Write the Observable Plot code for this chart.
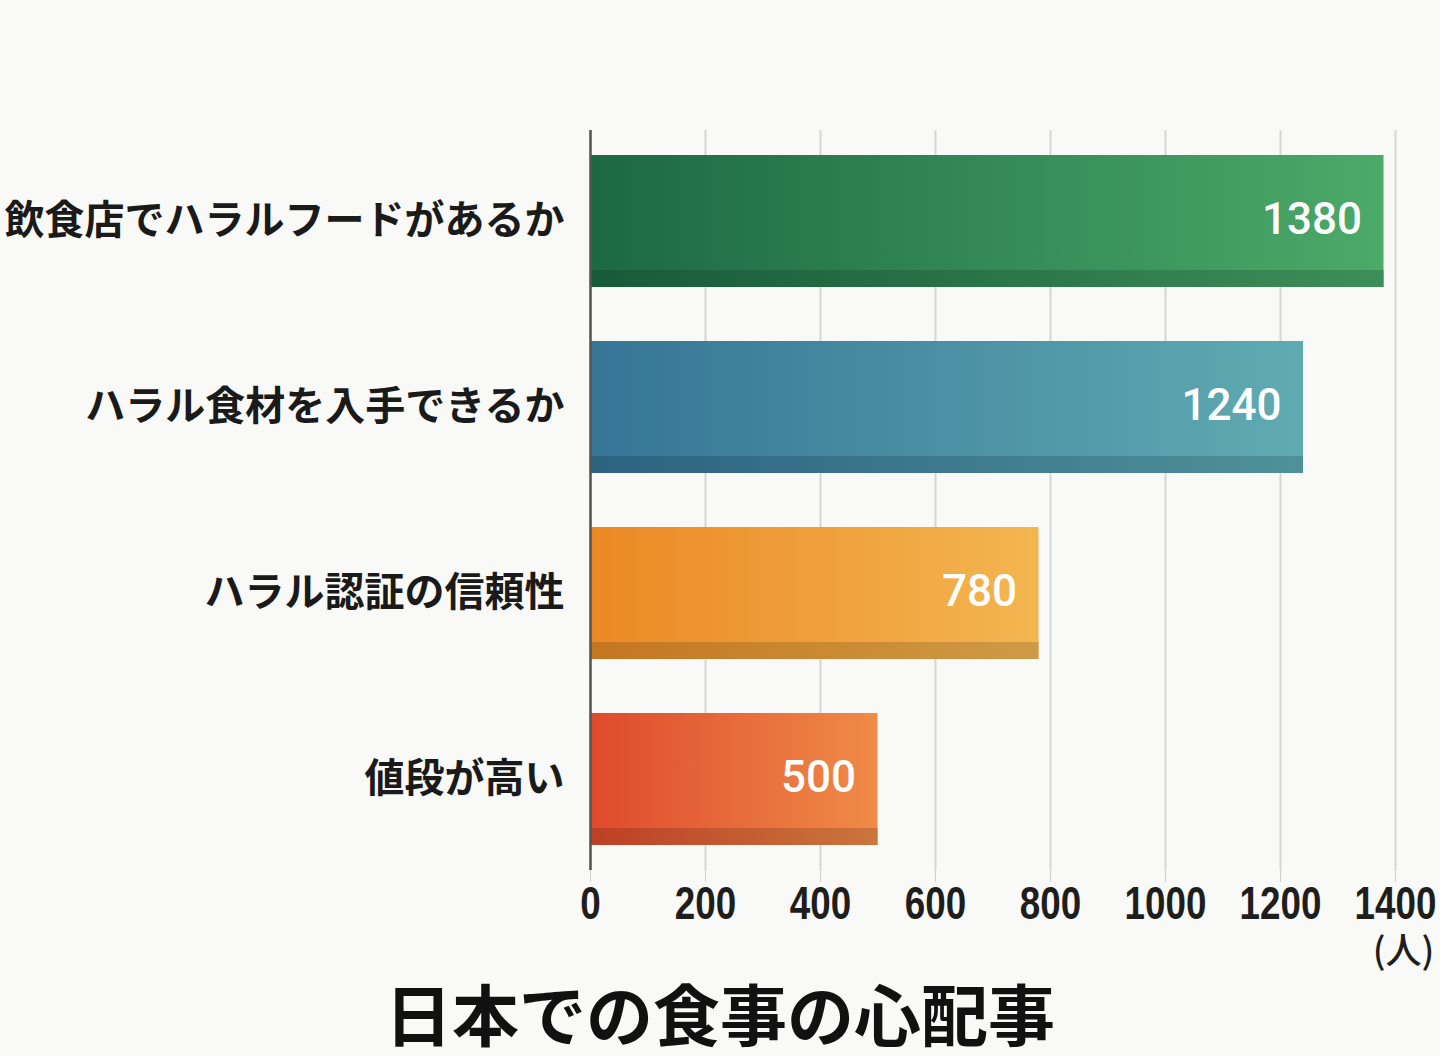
<!DOCTYPE html>
<html><head><meta charset="utf-8">
<script src="https://cdn.jsdelivr.net/npm/d3@7"></script>
<script src="https://cdn.jsdelivr.net/npm/@observablehq/plot@0.6"></script>
<style>
html,body{margin:0;padding:0;background:#f9f9f7;overflow:hidden;}
#chart{position:absolute;left:0;top:0;width:1440px;height:975px;}
#title{position:absolute;left:0;top:972px;width:1440px;height:80px;text-align:center;font-family:"Noto Sans CJK JP";font-weight:700;font-size:67px;line-height:80px;color:#111;}
#chart g[aria-label="face"], #chart g[aria-label="bevel"]{filter:drop-shadow(5px 6px 5px rgba(0,0,0,0.32));}
</style></head><body>
<div id="chart"></div><div id="title"></div>
<script>
const categories = ["飲食店でハラルフードがあるか", "ハラル食材を入手できるか", "ハラル認証の信頼性", "値段が高い"];
const values = [1380, 1240, 780, 500];
const faceColors = [["#1c6843", "#4caa69"], ["#367596", "#60abb2"], ["#eb8824", "#f3b651"], ["#df4a2d", "#ef8b47"]];
const bevelColors = [["#175a39", "#3d8e58"], ["#2c6280", "#4f9199"], ["#c4761f", "#cf9a45"], ["#bd3f25", "#c9763c"]];
const xTicks = [0, 200, 400, 600, 800, 1000, 1200, 1400];
const unitLabel = "(人)";
const title = "日本での食事の心配事";

const data = categories.map((c, i) => ({category: c, value: values[i], face: `url(#face${i})`, bevel: `url(#bevel${i})`}));

const svg = Plot.plot({
  width: 1440, height: 975,
  marginLeft: 590, marginRight: 45, marginTop: 130, marginBottom: 105,
  style: {background: "transparent", overflow: "visible"},
  x: {domain: [0, 1400], label: null},
  y: {domain: categories, paddingInner: 0.29, paddingOuter: 0.134, label: null},
  color: {type: "identity"},
  marks: [
    Plot.gridX(xTicks, {stroke: "#d6d6d6", strokeOpacity: 1, strokeWidth: 2}),
    Plot.axisX(xTicks, {tickSize: 12, stroke: "#cfcfcf", tickPadding: 4, tickFormat: d => String(d), fontSize: 46, fontWeight: 700, fontFamily: "Liberation Sans, Arial, sans-serif", fill: "#1e1e1e", label: null}),
    Plot.axisY({tickSize: 0, tickPadding: 26, fontSize: 40, fontWeight: 700, fontFamily: "Noto Sans CJK JP", fill: "#1a1a1a", label: null}),
    Plot.barX(data, {y: "category", x: "value", fill: "face", ariaLabel: "face"}),
    Plot.barX(data, {y: "category", x: "value", fill: "bevel", insetTop: 115, ariaLabel: "bevel"}),
    Plot.ruleX([0], {stroke: "#555", strokeWidth: 2.5}),
    Plot.text(data, {y: "category", x: "value", text: d => String(d.value), textAnchor: "end", dx: -22, dy: -2, fill: "white", fontSize: 44, fontWeight: 500, fontFamily: "Roboto"}),
    Plot.text([{t: unitLabel, x: xTicks[xTicks.length - 1]}], {x: "x", text: "t", frameAnchor: "bottom", dy: 93, dx: 8, fontSize: 36, fontFamily: "Noto Sans CJK JP", fontWeight: 500, fill: "#1e1e1e"})
  ]
});

// gradients
const ns = "http://www.w3.org/2000/svg";
const defs = document.createElementNS(ns, "defs");
function addGrad(id, cols) {
  const g = document.createElementNS(ns, "linearGradient");
  g.setAttribute("id", id); g.setAttribute("x1", "0"); g.setAttribute("x2", "1"); g.setAttribute("y1", "0"); g.setAttribute("y2", "0");
  cols.forEach((c, k) => {
    const s = document.createElementNS(ns, "stop");
    s.setAttribute("offset", k / (cols.length - 1)); s.setAttribute("stop-color", c);
    g.appendChild(s);
  });
  defs.appendChild(g);
}
faceColors.forEach((c, i) => addGrad("face" + i, c));
bevelColors.forEach((c, i) => addGrad("bevel" + i, c));
svg.insertBefore(defs, svg.firstChild);

// shape bars into 3D-looking slabs
d3.select(svg).selectAll('g[aria-label="face"] rect').each(function() {
  const r = d3.select(this);
  const x = +r.attr("x"), y = +r.attr("y"), w = +r.attr("width"), h = +r.attr("height");
  d3.select(this.parentNode).insert("path", () => this)
    .attr("d", `M${x},${y}H${x + w}V${y + h}H${x + 18}L${x},${y + h - 17}Z`)
    .attr("fill", r.attr("fill"));
  r.remove();
});
d3.select(svg).selectAll('g[aria-label="bevel"] rect').each(function() {
  const r = d3.select(this);
  const x = +r.attr("x"), y = +r.attr("y"), w = +r.attr("width"), h = +r.attr("height");
  d3.select(this.parentNode).insert("path", () => this)
    .attr("d", `M${x},${y}H${x + w - 13}L${x + w},${y + h}H${x + 18}Z`)
    .attr("fill", r.attr("fill"));
  r.remove();
});

document.getElementById("chart").appendChild(svg);
document.getElementById("title").textContent = title;

// condensed look for the x tick labels
d3.select(svg).selectAll('g[aria-label="x-axis tick label"] text').each(function() {
  const L = this.getComputedTextLength();
  this.setAttribute("textLength", (L * 0.8).toFixed(1));
  this.setAttribute("lengthAdjust", "spacingAndGlyphs");
});
</script>
</body></html>
